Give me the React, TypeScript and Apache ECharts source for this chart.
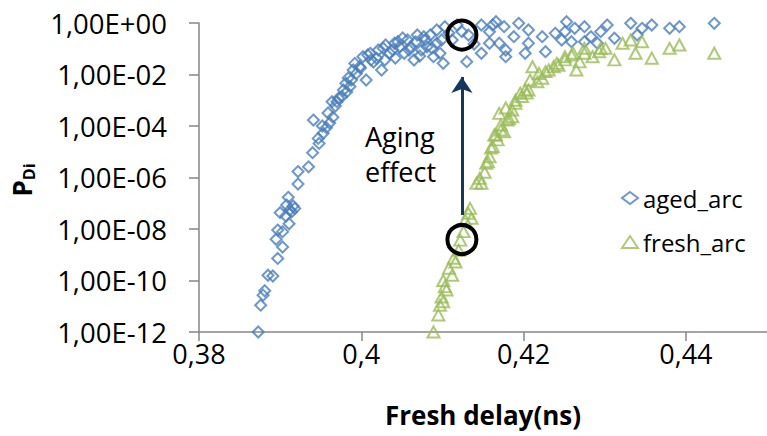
import React, { useEffect, useRef } from "react";
import * as echarts from "echarts";

// ---- data (Fresh delay in ns, P_Di) ----
const agedArc: [number, number][] = [
  [0.3873, 1e-12], [0.3876, 1.1e-11], [0.3879, 2.7e-11], [0.3881, 4.0e-11],
  [0.3885, 1.6e-10], [0.3891, 1.5e-10], [0.3897, 7.2e-10], [0.3903, 2.0e-9],
  [0.3895, 4.0e-9], [0.3903, 7.9e-9], [0.3897, 9.1e-9], [0.3911, 1.6e-8],
  [0.3907, 3.2e-8], [0.39, 4.3e-8], [0.3914, 4.6e-8], [0.3912, 5.5e-8],
  [0.3918, 6.3e-8], [0.3916, 7.8e-8], [0.3908, 8.5e-8], [0.391, 1.7e-7],
  [0.3922, 5.6e-7], [0.3922, 1.7e-6], [0.3935, 2.6e-6], [0.394, 9.2e-6],
  [0.3948, 2.1e-5], [0.3947, 3.3e-5], [0.3953, 5.2e-5], [0.3957, 8.6e-5],
  [0.3952, 1.0e-4], [0.3961, 1.3e-4], [0.3941, 1.7e-4], [0.3965, 2.2e-4],
  [0.3959, 3.2e-4], [0.3968, 6.0e-4], [0.3964, 8.8e-4], [0.397, 8.8e-4],
  [0.3972, 1.2e-3], [0.3976, 1.4e-3], [0.3982, 2.1e-3], [0.3978, 2.5e-3],
  [0.3986, 3.4e-3], [0.3981, 4.6e-3], [0.3988, 6.1e-3], [0.4006, 6.1e-3],
  [0.3984, 7.3e-3], [0.3994, 1.1e-2], [0.399, 1.5e-2], [0.3999, 1.8e-2],
  [0.3998, 2.0e-2], [0.3992, 2.7e-2], [0.4012, 3.7e-2], [0.4002, 4.9e-2],
  [0.4008, 5.7e-2],
  [0.4011, 0.0665], [0.4019, 0.0426], [0.4025, 0.015], [0.4041, 0.163],
  [0.4045, 0.188], [0.4057, 0.219], [0.4065, 0.0366], [0.4077, 0.294],
  [0.4085, 0.342], [0.4093, 0.163], [0.4097, 0.0665], [0.4101, 0.0272],
  [0.4103, 0.718], [0.4093, 0.535], [0.413, 0.0314], [0.4035, 0.0665],
  [0.4053, 0.0665], [0.4029, 0.0366], [0.4061, 0.12], [0.4081, 0.12],
  [0.4089, 0.0491], [0.4027, 0.104], [0.4069, 0.342], [0.4079, 0.219],
  [0.4118, 0.836], [0.4124, 0.459], [0.4132, 0.342], [0.4148, 0.836],
  [0.4162, 0.836], [0.4148, 0.0665], [0.4158, 0.163], [0.4166, 1.12],
  [0.4158, 0.459], [0.4176, 0.718], [0.4194, 0.973], [0.4188, 0.294],
  [0.417, 0.163], [0.4206, 0.535], [0.4206, 0.163], [0.4223, 0.294],
  [0.4227, 0.0768], [0.4239, 0.398], [0.4253, 1.12], [0.4251, 0.459],
  [0.4263, 0.622], [0.4275, 0.718], [0.4275, 0.188], [0.4283, 0.294],
  [0.4295, 0.459], [0.4303, 0.836], [0.4312, 0.255], [0.4332, 0.973],
  [0.434, 0.342], [0.4346, 0.622], [0.4358, 0.836], [0.438, 0.622],
  [0.4392, 0.718], [0.4435, 0.973], [0.4202, 0.0665], [0.4178, 0.0894],
  [0.4247, 0.219], [0.4291, 0.163], [0.4178, 0.0491], [0.4259, 0.188],
  [0.4139, 0.153], [0.4112, 0.219], [0.4108, 0.409], [0.4039, 0.0894],
  [0.4047, 0.117], [0.4067, 0.183], [0.4074, 0.0894], [0.4015, 0.0306],
  [0.4021, 0.0894], [0.403, 0.14], [0.4051, 0.261], [0.4059, 0.0894],
  [0.4072, 0.0523], [0.4087, 0.107], [0.4099, 0.219], [0.4042, 0.0438],
];

const freshArc: [number, number][] = [
  [0.4089, 1e-12], [0.4095, 4.6e-12], [0.4097, 1.1e-11], [0.4101, 1.5e-11],
  [0.4099, 2.3e-11], [0.4105, 4.3e-11], [0.4103, 5.8e-11], [0.4101, 1.0e-10],
  [0.4112, 1.6e-10], [0.4108, 3.0e-10], [0.4116, 5.2e-10], [0.4114, 7.3e-10],
  [0.412, 1.5e-9], [0.4122, 3.7e-9], [0.4126, 7.9e-9], [0.4128, 2.2e-8],
  [0.4136, 2.6e-8], [0.4132, 4.1e-8], [0.4134, 6.3e-8], [0.4142, 6.0e-7],
  [0.4146, 9.3e-7], [0.4148, 6.0e-7], [0.4152, 1.6e-6], [0.4154, 3.6e-6],
  [0.4156, 4.1e-6], [0.4158, 6.4e-6], [0.4162, 1.6e-5], [0.416, 1.4e-5],
  [0.4166, 4.5e-5], [0.4164, 4.5e-5], [0.4168, 2.9e-5], [0.417, 3.1e-4],
  [0.4172, 1.1e-4], [0.4172, 7.0e-5], [0.4176, 6.0e-5], [0.418, 1.7e-4],
  [0.4182, 1.9e-4], [0.4186, 2.3e-4], [0.4186, 4.2e-4], [0.4178, 5.0e-4],
  [0.419, 7.6e-4], [0.419, 1.0e-3], [0.4196, 1.9e-3], [0.4198, 1.4e-3],
  [0.4204, 1.9e-3], [0.4206, 2.5e-3], [0.4202, 2.5e-3], [0.4208, 6.1e-3],
  [0.4211, 2.0e-2], [0.4217, 5.2e-3], [0.4219, 1.1e-2], [0.4223, 7.1e-3],
  [0.4227, 1.3e-2], [0.4231, 1.5e-2], [0.4237, 2.0e-2], [0.4241, 2.7e-2],
  [0.4243, 2.3e-2], [0.4251, 3.7e-2], [0.4251, 4.9e-2], [0.4259, 5.7e-2],
  [0.4261, 6.7e-2], [0.4265, 1.5e-2], [0.4269, 3.1e-2], [0.4275, 6.7e-2],
  [0.4275, 0.104], [0.4285, 4.9e-2], [0.4293, 7.7e-2], [0.4295, 0.104],
  [0.4301, 0.104], [0.4312, 3.7e-2], [0.4322, 0.163], [0.4332, 0.219],
  [0.4338, 6.7e-2], [0.4346, 0.188], [0.4358, 4.3e-2], [0.438, 0.104],
  [0.4392, 0.14], [0.4435, 6.7e-2],
];

const xTicks = [0.38, 0.4, 0.42, 0.44];
const circleCenters: [number, number][] = [
  [0.4124, 0.34],
  [0.4124, 3.9e-9],
];
const arrowFrom: [number, number] = [0.4124, 3.5e-8];
const arrowTo: [number, number] = [0.4124, 8.0e-3];

const FONT = "Open Sans";

function fmtY(v: number): string {
  const e = Math.round(Math.log10(v));
  const sign = e < 0 ? "-" : "+";
  return "1,00E" + sign + String(Math.abs(e)).padStart(2, "0");
}

function fmtX(v: number): string {
  const r = Math.round(v * 1000) / 1000;
  if (!xTicks.some((t) => Math.abs(t - r) < 1e-6)) return "";
  return String(r).replace(".", ",");
}

export default function App() {
  const ref = useRef<HTMLDivElement>(null);
  useEffect(() => {
    if (!ref.current) return;
    const chart = echarts.init(ref.current, undefined, { renderer: "svg" });
    chart.setOption({
      animation: false,
      backgroundColor: "#ffffff",
      textStyle: { fontFamily: FONT },
      grid: { left: 199, top: 23, right: -9, bottom: 104, containLabel: false },
      xAxis: {
        type: "value",
        min: 0.38,
        max: 0.45,
        interval: 0.02,
        splitLine: { show: false },
        axisLine: { lineStyle: { color: "#868686", width: 1.5 } },
        axisTick: { show: true, inside: false, length: 9, lineStyle: { color: "#868686", width: 1.5 } },
        axisLabel: {
          formatter: fmtX,
          showMaxLabel: false,
          fontSize: 27,
          color: "#000",
          fontFamily: FONT,
          margin: 8,
        },
        name: "Fresh delay(ns)",
        nameLocation: "middle",
        nameGap: 70,
        nameTextStyle: { fontSize: 26, fontWeight: "bold", color: "#000", fontFamily: FONT },
      },
      yAxis: {
        type: "log",
        logBase: 100,
        min: 1e-12,
        max: 1,
        splitNumber: 6,
        splitLine: { show: false },
        axisLine: { show: true, lineStyle: { color: "#868686", width: 1.5 } },
        axisTick: { show: true, inside: false, length: 10, lineStyle: { color: "#868686", width: 1.5 } },
        minorTick: { show: false },
        axisLabel: {
          formatter: fmtY,
          fontSize: 27.5,
          color: "#000",
          fontFamily: FONT,
          margin: 32,
        },
      },
      legend: {
        data: ["aged_arc", "fresh_arc"],
        orient: "vertical",
        left: 616,
        top: 181,
        itemWidth: 16,
        itemHeight: 12,
        itemGap: 20,
        textStyle: { fontSize: 24, color: "#000", fontFamily: FONT },
      },
      graphic: [
        {
          type: "text",
          left: 365,
          top: 123,
          style: { text: "Aging", fontSize: 27, fill: "#000", fontFamily: FONT },
        },
        {
          type: "text",
          left: 365,
          top: 158,
          style: { text: "effect", fontSize: 27, fill: "#000", fontFamily: FONT },
        },
        {
          type: "text",
          x: 22,
          y: 180,
          rotation: Math.PI / 2,
          style: {
            text: "{p|P}{s|Di}",
            align: "center",
            verticalAlign: "middle",
            rich: {
              p: { fontSize: 26, fontWeight: "bold", fontFamily: FONT, fill: "#000", lineHeight: 30 },
              s: { fontSize: 16, fontWeight: "bold", fontFamily: FONT, fill: "#000", verticalAlign: "bottom", lineHeight: 30, padding: [11, 0, 0, 0] },
            },
          },
        },
      ],
      series: [
        {
          type: "scatter",
          name: "aged_arc",
          data: agedArc,
          symbol: "diamond",
          symbolSize: 11,
          clip: false,
          itemStyle: { color: "rgba(0,0,0,0)", borderColor: "#4A7EBB", borderWidth: 2 },
        },
        {
          type: "scatter",
          name: "fresh_arc",
          data: freshArc,
          symbol: "triangle",
          symbolSize: [12, 11],
          clip: false,
          itemStyle: { color: "rgba(0,0,0,0)", borderColor: "#9BBB59", borderWidth: 2 },
          markLine: {
            silent: true,
            animation: false,
            symbol: ["none", "arrow"],
            symbolSize: [16, 16],
            label: { show: false },
            lineStyle: { color: "#17365D", width: 3, type: "solid" },
            data: [[{ coord: arrowFrom }, { coord: arrowTo }]],
          },
          markPoint: {
            silent: true,
            animation: false,
            symbol: "circle",
            symbolSize: 29,
            label: { show: false },
            itemStyle: { color: "rgba(0,0,0,0)", borderColor: "#000", borderWidth: 4 },
            data: circleCenters.map((c) => ({ coord: c })),
          },
        },
      ],
    });
    return () => chart.dispose();
  }, []);
  return (
    <div
      ref={ref}
      style={{ position: "absolute", left: 0, top: 0, width: 767, height: 436 }}
    />
  );
}
